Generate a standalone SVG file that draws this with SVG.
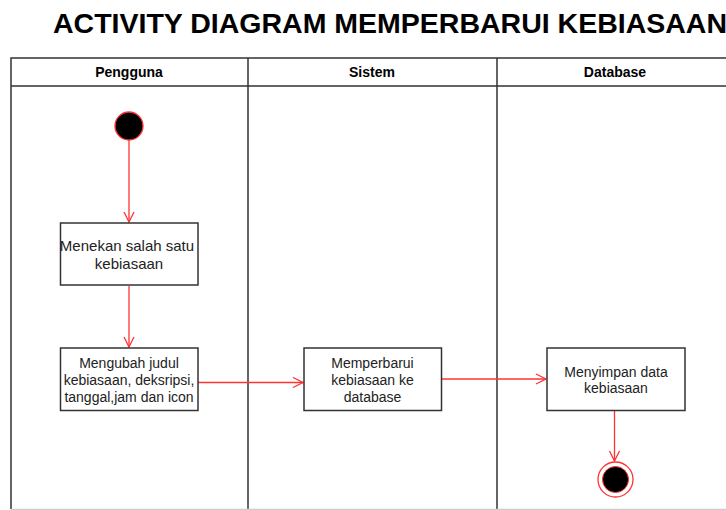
<svg xmlns="http://www.w3.org/2000/svg" width="726" height="510" viewBox="0 0 726 510">
<style>
.title{font-family:"Liberation Sans",Arial,sans-serif;font-weight:bold;font-size:28.5px;fill:#000}
.hdr{font-family:"Liberation Sans",Arial,sans-serif;font-weight:bold;font-size:14px;fill:#000;text-anchor:middle}
.lbl{font-family:"Liberation Sans",Arial,sans-serif;font-size:14px;fill:#222;text-anchor:middle}
.big{font-size:15px}
.lane{stroke:#333;stroke-width:1.5;fill:none}
.box{fill:#fff;stroke:#333;stroke-width:1.5}
.flow{stroke:#ff3333;stroke-width:1.3;fill:none;marker-end:url(#arr)}
</style>
<defs>
<marker id="arr" viewBox="0 0 12 12" refX="11" refY="6" markerWidth="12" markerHeight="12" markerUnits="userSpaceOnUse" orient="auto">
<path d="M1,1 L11,6 L1,11" fill="none" stroke="#ff3333" stroke-width="1.3"/>
</marker>
</defs>
<rect width="726" height="510" fill="#fff"/>
<text class="title" x="53" y="33">ACTIVITY DIAGRAM MEMPERBARUI KEBIASAAN</text>
<g id="swimlanes">
<path class="lane" d="M11,509 V58 H740 M11,86 H740 M248,58 V510 M497,58 V510"/>
<line x1="11" y1="509.5" x2="726" y2="509.5" stroke="#ccc" stroke-width="1.5"/>
<text class="hdr" x="129" y="77">Pengguna</text>
<text class="hdr" x="372" y="77">Sistem</text>
<text class="hdr" x="615" y="77">Database</text>
</g>
<g id="connectors">
<line class="flow" x1="129" y1="140" x2="129" y2="222"/>
<line class="flow" x1="129" y1="286" x2="129" y2="347"/>
<line class="flow" x1="198" y1="382.5" x2="303" y2="382.5"/>
<line class="flow" x1="442" y1="379" x2="546" y2="379"/>
<line class="flow" x1="614.5" y1="411" x2="614.5" y2="461"/>
</g>
<g id="start">
<circle cx="129" cy="126" r="14" fill="#000" stroke="#ff3333" stroke-width="1.3"/>
</g>
<g id="act1">
<rect class="box" x="60.5" y="223" width="137.5" height="62"/>
<text class="lbl big" x="127" y="250.5">Menekan salah satu</text>
<text class="lbl big" x="129" y="268.5">kebiasaan</text>
</g>
<g id="act2">
<rect class="box" x="60.5" y="348" width="137.5" height="62.5"/>
<text class="lbl" x="129" y="368">Mengubah judul</text>
<text class="lbl" x="129" y="385">kebiasaan, deksripsi,</text>
<text class="lbl" x="129" y="401.5">tanggal,jam dan icon</text>
</g>
<g id="act3">
<rect class="box" x="304" y="348" width="137.5" height="62.5"/>
<text class="lbl" x="372.5" y="368">Memperbarui</text>
<text class="lbl" x="372.5" y="385">kebiasaan ke</text>
<text class="lbl" x="372.5" y="401.5">database</text>
</g>
<g id="act4">
<rect class="box" x="547" y="348" width="138" height="62.5"/>
<text class="lbl" x="616" y="376.5">Menyimpan data</text>
<text class="lbl" x="616" y="392.5">kebiasaan</text>
</g>
<g id="end">
<circle cx="615.5" cy="479.5" r="17.5" fill="#fff" stroke="#ff3333" stroke-width="1.3"/>
<circle cx="615.5" cy="479.5" r="13" fill="#000" stroke="#ff3333" stroke-width="1"/>
</g>
</svg>
